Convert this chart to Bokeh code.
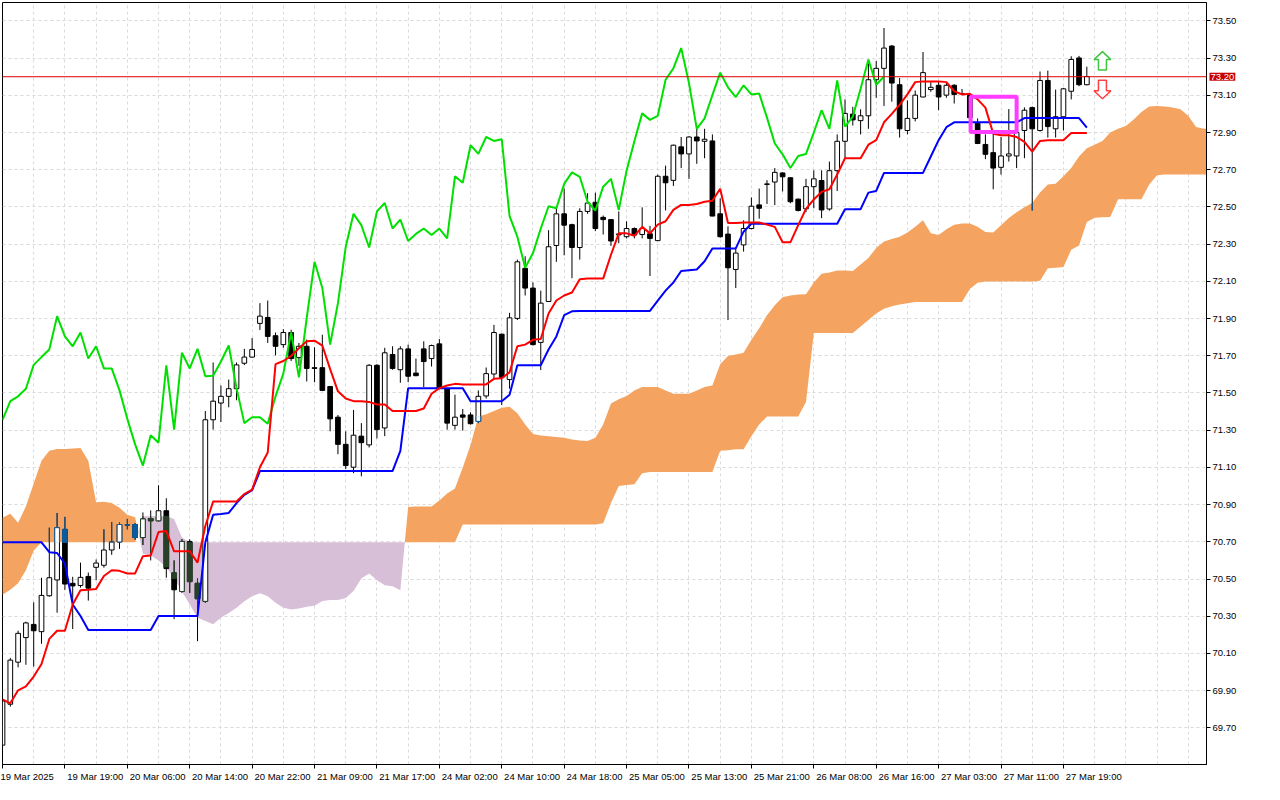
from bokeh.plotting import figure
from bokeh.models import (Range1d, FixedTicker, PrintfTickFormatter, Span, Label,
                          BoxAnnotation, ColumnDataSource)
from bokeh.embed import file_html
from bokeh.resources import INLINE

# ---------------- data (H1 bars) ----------------
opens = [69.607, 69.827, 70.053, 70.185, 70.256, 70.217, 70.410, 70.495, 70.767, 70.477,
         70.465, 70.514, 70.563, 70.574, 70.656, 70.699, 70.790, 70.793, 70.723, 70.825,
         70.813, 70.867, 70.533, 70.433, 70.702, 70.477, 70.380, 71.356, 71.446, 71.482,
         71.523, 71.660, 71.693, 71.874, 71.906, 71.808, 71.760, 71.825, 71.690, 71.751,
         71.636, 71.636, 71.535, 71.370, 71.224, 71.101, 71.268, 71.221, 71.649, 71.312,
         71.707, 71.625, 71.737, 71.607, 71.737, 71.685, 71.764, 71.522, 71.326, 71.382,
         71.382, 71.347, 71.484, 71.602, 71.816, 71.572, 71.901, 72.170, 72.064, 71.772,
         71.992, 72.293, 72.463, 72.405, 72.282, 72.476, 72.525, 72.444, 72.432, 72.350,
         72.340, 72.384, 72.352, 72.356, 72.319, 72.665, 72.643, 72.823, 72.785, 72.876,
         72.853, 72.855, 72.463, 72.354, 72.164, 72.296, 72.384, 72.511, 72.621, 72.634,
         72.683, 72.657, 72.542, 72.490, 72.609, 72.642, 72.489, 72.695, 72.853, 72.999,
         72.964, 72.990, 73.184, 73.245, 73.365, 73.157, 72.911, 72.976, 73.091, 73.131,
         73.154, 73.101, 73.154, 73.108, 73.100, 72.950, 72.836, 72.792, 72.713, 72.774,
         72.774, 72.911, 73.034, 72.911, 73.180, 72.920, 72.985, 73.122, 73.301, 73.157]
highs = [69.850, 70.076, 70.222, 70.271, 70.375, 70.507, 70.776, 70.855, 70.834, 70.512,
         70.588, 70.535, 70.605, 70.767, 70.806, 70.806, 70.823, 70.800, 70.858, 70.869,
         71.004, 70.934, 70.600, 70.714, 70.714, 70.503, 71.403, 71.664, 71.540, 71.572,
         71.664, 71.737, 71.795, 71.983, 71.997, 71.825, 71.843, 71.840, 71.769, 71.787,
         71.746, 71.813, 71.535, 71.382, 71.294, 71.409, 71.338, 71.655, 71.655, 71.743,
         71.751, 71.751, 71.760, 71.685, 71.778, 71.760, 71.790, 71.525, 71.491, 71.414,
         71.396, 71.514, 71.637, 71.866, 71.820, 71.931, 72.217, 72.235, 72.094, 72.050,
         72.375, 72.493, 72.599, 72.410, 72.493, 72.574, 72.577, 72.454, 72.435, 72.476,
         72.423, 72.390, 72.498, 72.398, 72.674, 72.722, 72.835, 72.876, 72.880, 72.929,
         72.920, 72.890, 72.546, 72.396, 72.282, 72.428, 72.551, 72.599, 72.644, 72.709,
         72.686, 72.660, 72.545, 72.651, 72.697, 72.697, 72.744, 72.890, 73.078, 73.038,
         73.025, 73.289, 73.284, 73.462, 73.370, 73.193, 73.073, 73.126, 73.333, 73.171,
         73.175, 73.166, 73.160, 73.134, 73.110, 72.976, 72.890, 72.894, 72.876, 73.026,
         72.920, 73.035, 73.040, 73.228, 73.233, 73.131, 73.140, 73.310, 73.312, 73.254]
lows = [69.600, 69.814, 70.025, 70.039, 70.029, 70.152, 70.405, 70.319, 70.442, 70.231,
        70.454, 70.384, 70.493, 70.561, 70.630, 70.662, 70.767, 70.711, 70.683, 70.600,
        70.810, 70.507, 70.284, 70.425, 70.425, 70.166, 70.372, 71.303, 71.344, 71.423,
        71.461, 71.650, 71.690, 71.839, 71.769, 71.702, 71.743, 71.672, 71.646, 71.562,
        71.558, 71.510, 71.294, 71.171, 71.092, 71.069, 71.052, 71.207, 71.256, 71.268,
        71.625, 71.555, 71.558, 71.590, 71.532, 71.642, 71.520, 71.303, 71.303, 71.298,
        71.330, 71.338, 71.470, 71.579, 71.435, 71.523, 71.892, 72.024, 71.755, 71.623,
        71.990, 72.205, 72.240, 72.117, 72.217, 72.463, 72.370, 72.352, 72.291, 72.305,
        72.331, 72.331, 72.331, 72.129, 72.317, 72.481, 72.613, 72.709, 72.651, 72.732,
        72.762, 72.450, 72.335, 71.892, 72.064, 72.260, 72.380, 72.437, 72.516, 72.510,
        72.583, 72.520, 72.476, 72.472, 72.493, 72.440, 72.480, 72.586, 72.762, 72.938,
        72.890, 72.920, 73.087, 73.043, 73.066, 72.873, 72.890, 72.960, 73.090, 73.119,
        73.020, 73.087, 73.056, 73.100, 72.950, 72.838, 72.757, 72.595, 72.674, 72.744,
        72.709, 72.762, 72.481, 72.905, 72.873, 72.873, 72.911, 73.078, 73.149, 73.154]
closes = [69.844, 70.064, 70.208, 70.264, 70.222, 70.412, 70.507, 70.776, 70.473, 70.463,
          70.509, 70.451, 70.586, 70.656, 70.699, 70.793, 70.792, 70.723, 70.823, 70.813,
          70.867, 70.556, 70.442, 70.702, 70.486, 70.394, 71.356, 71.456, 71.482, 71.523,
          71.651, 71.693, 71.734, 71.913, 71.804, 71.751, 71.825, 71.685, 71.751, 71.632,
          71.632, 71.514, 71.361, 71.224, 71.110, 71.273, 71.233, 71.649, 71.303, 71.716,
          71.632, 71.737, 71.590, 71.593, 71.669, 71.755, 71.526, 71.338, 71.370, 71.370,
          71.335, 71.482, 71.604, 71.825, 71.584, 71.904, 72.205, 72.064, 71.760, 71.983,
          72.286, 72.463, 72.402, 72.282, 72.476, 72.521, 72.384, 72.432, 72.317, 72.355,
          72.384, 72.349, 72.384, 72.331, 72.665, 72.630, 72.832, 72.785, 72.876, 72.855,
          72.864, 72.451, 72.340, 72.173, 72.252, 72.384, 72.504, 72.493, 72.624, 72.686,
          72.662, 72.528, 72.481, 72.609, 72.651, 72.484, 72.695, 72.853, 73.003, 72.968,
          72.990, 73.184, 73.245, 73.354, 73.166, 72.920, 72.976, 73.101, 73.222, 73.143,
          73.091, 73.154, 73.105, 73.110, 72.980, 72.841, 72.783, 72.709, 72.774, 72.785,
          72.900, 73.020, 72.920, 73.180, 72.932, 72.985, 73.135, 73.293, 73.157, 73.201]

tenkan = [69.853, 69.832, 69.902, 69.923, 69.976, 70.043, 70.178, 70.222, 70.222, 70.363,
          70.440, 70.442, 70.447, 70.516, 70.547, 70.544, 70.530, 70.530, 70.623, 70.627,
          70.753, 70.758, 70.649, 70.649, 70.649, 70.588, 70.785, 70.917, 70.917, 70.917,
          70.917, 70.957, 70.981, 71.101, 71.180, 71.655, 71.672, 71.699, 71.740, 71.778,
          71.781, 71.755, 71.628, 71.509, 71.470, 71.456, 71.456, 71.452, 71.438, 71.438,
          71.403, 71.403, 71.403, 71.403, 71.417, 71.496, 71.526, 71.540, 71.549, 71.546,
          71.546, 71.546, 71.546, 71.576, 71.579, 71.611, 71.751, 71.760, 71.786, 71.790,
          71.927, 71.997, 72.024, 72.040, 72.112, 72.115, 72.115, 72.115, 72.243, 72.358,
          72.358, 72.345, 72.393, 72.358, 72.405, 72.423, 72.484, 72.511, 72.511, 72.516,
          72.528, 72.533, 72.598, 72.414, 72.414, 72.416, 72.416, 72.416, 72.405, 72.393,
          72.310, 72.310, 72.402, 72.490, 72.540, 72.581, 72.595, 72.674, 72.762, 72.762,
          72.762, 72.835, 72.859, 72.955, 73.000, 73.049, 73.105, 73.171, 73.175, 73.175,
          73.175, 73.171, 73.122, 73.105, 73.108, 73.078, 73.034, 72.894, 72.885, 72.885,
          72.876, 72.850, 72.797, 72.855, 72.859, 72.859, 72.859, 72.898, 72.898, 72.898]
kijun = [70.697, 70.697, 70.697, 70.697, 70.697, 70.697, 70.644, 70.640, 70.582, 70.363,
         70.301, 70.226, 70.226, 70.226, 70.226, 70.226, 70.226, 70.226, 70.226, 70.226,
         70.301, 70.301, 70.301, 70.301, 70.301, 70.301, 70.697, 70.846, 70.850, 70.855,
         70.908, 70.952, 70.978, 71.080, 71.080, 71.080, 71.080, 71.080, 71.080, 71.080,
         71.080, 71.080, 71.080, 71.080, 71.080, 71.080, 71.080, 71.080, 71.080, 71.080,
         71.080, 71.189, 71.526, 71.526, 71.526, 71.526, 71.526, 71.526, 71.526, 71.526,
         71.456, 71.456, 71.456, 71.456, 71.456, 71.490, 71.649, 71.649, 71.649, 71.649,
         71.734, 71.804, 71.918, 71.939, 71.941, 71.941, 71.941, 71.941, 71.941, 71.941,
         71.941, 71.941, 71.941, 71.941, 71.997, 72.050, 72.094, 72.156, 72.160, 72.164,
         72.208, 72.277, 72.277, 72.277, 72.277, 72.367, 72.410, 72.410, 72.410, 72.410,
         72.410, 72.410, 72.410, 72.410, 72.410, 72.410, 72.410, 72.410, 72.488, 72.488,
         72.488, 72.577, 72.586, 72.683, 72.683, 72.683, 72.683, 72.683, 72.683, 72.771,
         72.859, 72.929, 72.955, 72.955, 72.955, 72.955, 72.955, 72.955, 72.955, 72.955,
         72.955, 72.978, 72.978, 72.978, 72.978, 72.978, 72.978, 72.978, 72.978, 72.926]
# Senkou spans, already displaced 26 bars forward (bars 0..155)
span_a = [70.829, 70.851, 70.802, 70.890, 71.013, 71.136, 71.189, 71.199, 71.199, 71.202,
          71.204, 71.136, 70.913, 70.915, 70.909, 70.883, 70.846, 70.832, 70.635, 70.626,
          70.600, 70.565, 70.503, 70.433, 70.363, 70.292, 70.275, 70.257, 70.292, 70.318,
          70.345, 70.380, 70.407, 70.424, 70.407, 70.372, 70.345, 70.336, 70.341, 70.351,
          70.356, 70.382, 70.387, 70.387, 70.398, 70.435, 70.503, 70.530, 70.493, 70.467,
          70.461, 70.440, 70.887, 70.890, 70.890, 70.890, 70.922, 70.960, 70.987, 71.100,
          71.220, 71.374, 71.386, 71.403, 71.421, 71.426, 71.391, 71.330, 71.280, 71.272,
          71.268, 71.264, 71.259, 71.250, 71.245, 71.242, 71.259, 71.330, 71.444, 71.467,
          71.484, 71.514, 71.532, 71.532, 71.532, 71.514, 71.496, 71.496, 71.496, 71.514,
          71.532, 71.540, 71.655, 71.699, 71.707, 71.716, 71.786, 71.848, 71.918, 71.971,
          72.015, 72.024, 72.029, 72.031, 72.094, 72.141, 72.147, 72.159, 72.159, 72.156,
          72.191, 72.226, 72.279, 72.314, 72.328, 72.340, 72.363, 72.393, 72.428, 72.358,
          72.349, 72.380, 72.405, 72.411, 72.411, 72.393, 72.366, 72.363, 72.402, 72.440,
          72.472, 72.498, 72.521, 72.578, 72.621, 72.625, 72.665, 72.709, 72.771, 72.815,
          72.835, 72.855, 72.900, 72.920, 72.935, 72.970, 73.010, 73.040, 73.043, 73.040,
          73.035, 73.025, 72.990, 72.930, 72.920, 72.920]
span_b = [70.415, 70.442, 70.477, 70.547, 70.653, 70.697, 70.697, 70.697, 70.697, 70.697,
          70.697, 70.697, 70.697, 70.697, 70.697, 70.697, 70.697, 70.697, 70.837, 70.837,
          70.837, 70.837, 70.823, 70.723, 70.697, 70.697, 70.697, 70.697, 70.697, 70.697,
          70.697, 70.697, 70.697, 70.697, 70.697, 70.697, 70.697, 70.697, 70.697, 70.697,
          70.697, 70.697, 70.697, 70.697, 70.697, 70.697, 70.697, 70.697, 70.697, 70.697,
          70.697, 70.697, 70.697, 70.697, 70.697, 70.697, 70.697, 70.697, 70.697, 70.793,
          70.793, 70.793, 70.793, 70.793, 70.793, 70.793, 70.793, 70.793, 70.793, 70.793,
          70.793, 70.793, 70.793, 70.793, 70.793, 70.793, 70.793, 70.800, 70.908, 71.000,
          71.005, 71.010, 71.069, 71.075, 71.075, 71.075, 71.075, 71.075, 71.075, 71.075,
          71.075, 71.075, 71.189, 71.192, 71.198, 71.198, 71.268, 71.330, 71.374, 71.374,
          71.374, 71.374, 71.374, 71.452, 71.822, 71.822, 71.822, 71.822, 71.822, 71.822,
          71.857, 71.892, 71.927, 71.953, 71.966, 71.976, 71.983, 71.989, 71.989, 71.989,
          71.989, 71.989, 71.989, 71.989, 72.059, 72.092, 72.099, 72.099, 72.099, 72.099,
          72.099, 72.099, 72.099, 72.103, 72.170, 72.173, 72.177, 72.270, 72.293, 72.419,
          72.442, 72.444, 72.446, 72.542, 72.542, 72.542, 72.542, 72.621, 72.670, 72.674,
          72.674, 72.674, 72.674, 72.674, 72.674, 72.674]

chikou_shift = 26
tick_bars = [0, 8, 16, 24, 32, 40, 48, 56, 64, 72, 80, 88, 96, 104, 112, 120, 128, 136]
tick_labels = ["19 Mar 2025", "19 Mar 19:00", "20 Mar 06:00", "20 Mar 14:00", "20 Mar 22:00",
               "21 Mar 09:00", "21 Mar 17:00", "24 Mar 02:00", "24 Mar 10:00", "24 Mar 18:00",
               "25 Mar 05:00", "25 Mar 13:00", "25 Mar 21:00", "26 Mar 08:00", "26 Mar 16:00",
               "27 Mar 03:00", "27 Mar 11:00", "27 Mar 19:00"]
price_ticks = [69.70, 69.90, 70.10, 70.30, 70.50, 70.70, 70.90, 71.10, 71.30, 71.50,
               71.70, 71.90, 72.10, 72.30, 72.50, 72.70, 72.90, 73.10, 73.30, 73.50]
last_price = 73.20
box_bars = (124.1, 130.0)
box_prices = (72.903, 73.092)
arrow_bar = 141
arrow_up_tip = 73.335
arrow_down_tip = 73.082

# ---------------- styling ----------------
FONT = "Liberation Sans"
FSIZE = 9.5
FW, FH = 1204, 762
X_START, X_END = 0.0, 154.34
Y_START, Y_END = 69.503, 73.599
ORANGE, PURPLE = "#f4a460", "#d8bfd8"
INV = {ORANGE: "#0b5b9f", PURPLE: "#274027"}
BODY_W = 0.6

p = figure(frame_width=FW, frame_height=FH,
           x_range=Range1d(X_START, X_END), y_range=Range1d(Y_START, Y_END),
           output_backend="svg", toolbar_location=None, y_axis_location="right",
           min_border_left=2, min_border_top=2, min_border_right=0, min_border_bottom=0,
           background_fill_color="white", border_fill_color="white")
p.outline_line_color = "black"
p.outline_line_width = 1

# grid
p.xgrid.ticker = FixedTicker(ticks=list(range(0, 160, 4)))
p.ygrid.ticker = FixedTicker(ticks=price_ticks)
for g in (p.xgrid, p.ygrid):
    g.grid_line_color = "#dadada"
    g.grid_line_dash = "3 3"
    g.grid_line_width = 1

# bottom labels start at their tick: axis labels are centred, so pad them on the
# left with no-break spaces of about the label's own width (the first one is kept
# inside the canvas by the axis itself)
EM = {"0": .556, "1": .556, "2": .556, "3": .556, "4": .556, "5": .556, "6": .556,
      "7": .556, "8": .556, "9": .556, " ": .278, ":": .278, "M": .833, "a": .556, "r": .333}
NBSP_EM = 0.278


def left_aligned(text):
    w = sum(EM.get(ch, .556) for ch in text) * FSIZE + 4
    return "\u00a0" * round(w / (NBSP_EM * FSIZE)) + text


overrides = {b: left_aligned(t) for b, t in zip(tick_bars, tick_labels)}
overrides[tick_bars[0]] = tick_labels[0]

xa = p.xaxis[0]
xa.ticker = FixedTicker(ticks=tick_bars)
xa.major_label_overrides = overrides
ya = p.yaxis[0]
ya.ticker = FixedTicker(ticks=price_ticks)
ya.formatter = PrintfTickFormatter(format="%.2f")
for ax in (xa, ya):
    ax.major_label_text_font = FONT
    ax.major_label_text_font_size = f"{FSIZE}px"
    ax.major_label_text_color = "black"
    ax.axis_line_color = "black"
    ax.major_tick_line_color = "black"
    ax.major_tick_out = 4
    ax.major_tick_in = 0
    ax.minor_tick_line_color = None
    ax.major_label_standoff = 2

# ---------------- Ichimoku cloud ----------------
def cloud_runs(a, b):
    runs = []
    xs, ua, lb = [0], [a[0]], [b[0]]
    up = a[0] >= b[0]
    for i in range(1, len(a)):
        s = a[i] >= b[i]
        if s != up:
            d0, d1 = a[i - 1] - b[i - 1], a[i] - b[i]
            t = d0 / (d0 - d1)
            xc = i - 1 + t
            yc = a[i - 1] + t * (a[i] - a[i - 1])
            xs.append(xc); ua.append(yc); lb.append(yc)
            runs.append((xs, ua, lb, up))
            xs, ua, lb, up = [xc], [yc], [yc], s
        xs.append(i); ua.append(a[i]); lb.append(b[i])
    runs.append((xs, ua, lb, up))
    return runs


pxs, pys, pcs = [], [], []
for xs, ua, lb, up in cloud_runs(span_a, span_b):
    pxs.append(xs + xs[::-1])
    pys.append(ua + lb[::-1])
    pcs.append(ORANGE if up else PURPLE)
p.patches(xs="xs", ys="ys", fill_color="c", line_color=None,
          source=ColumnDataSource(dict(xs=pxs, ys=pys, c=pcs)))

# ---------------- candles ----------------
n = len(closes)
bars = list(range(n))
tops = [max(o, c) for o, c in zip(opens, closes)]
bots = [min(o, c) for o, c in zip(opens, closes)]
fills = ["white" if c >= o else "black" for o, c in zip(opens, closes)]
csrc = ColumnDataSource(dict(x=bars, h=highs, l=lows, top=tops, bot=bots, fill=fills))
p.segment(x0="x", y0="l", x1="x", y1="h", source=csrc, line_color="black", line_width=1)
p.vbar(x="x", width=BODY_W, top="top", bottom="bot", fill_color="fill",
       line_color="black", line_width=1, source=csrc)

# candle parts lying inside the cloud are drawn in the cloud's inverse colour
wx, wy0, wy1, wc = [], [], [], []
bx, bt_, bb_, bf, bl = [], [], [], [], []
ex0, ex1, ey0, ey1, ec = [], [], [], [], []
for i in range(n):
    lo, hi = min(span_a[i], span_b[i]), max(span_a[i], span_b[i])
    inv = INV[ORANGE if span_a[i] >= span_b[i] else PURPLE]
    w0, w1 = max(lows[i], lo), min(highs[i], hi)
    if w1 > w0:
        wx.append(i); wy0.append(w0); wy1.append(w1); wc.append(inv)
    o0, o1 = max(bots[i], lo), min(tops[i], hi)
    if o1 > o0:
        if closes[i] < opens[i]:
            bx.append(i); bb_.append(o0); bt_.append(o1); bf.append(inv); bl.append(inv)
        else:
            bx.append(i); bb_.append(o0); bt_.append(o1); bf.append("white"); bl.append(None)
            for side in (-BODY_W / 2, BODY_W / 2):
                ex0.append(i + side); ex1.append(i + side); ey0.append(o0); ey1.append(o1); ec.append(inv)
            for edge in (tops[i], bots[i]):
                if lo <= edge <= hi:
                    ex0.append(i - BODY_W / 2); ex1.append(i + BODY_W / 2)
                    ey0.append(edge); ey1.append(edge); ec.append(inv)
p.segment(x0="x", y0="y0", x1="x", y1="y1", line_color="c", line_width=1,
          source=ColumnDataSource(dict(x=wx, y0=wy0, y1=wy1, c=wc)))
p.vbar(x="x", width=BODY_W, top="t", bottom="b", fill_color="f", line_color="lc", line_width=1,
       source=ColumnDataSource(dict(x=bx, t=bt_, b=bb_, f=bf, lc=bl)))
p.segment(x0="x0", y0="y0", x1="x1", y1="y1", line_color="c", line_width=1,
          source=ColumnDataSource(dict(x0=ex0, x1=ex1, y0=ey0, y1=ey1, c=ec)))

# ---------------- Ichimoku lines ----------------
p.line(bars[:n - chikou_shift], closes[chikou_shift:], line_color="#00e000", line_width=2)
p.line(bars, kijun, line_color="#0000ff", line_width=2)
p.line(bars, tenkan, line_color="#ff0000", line_width=2)

# current price line and its tag on the price scale
p.add_layout(Span(location=last_price, dimension="width", line_color="#e00000", line_width=1))
p.add_layout(Label(x=X_END, y=last_price, x_offset=3, text=f"{last_price:.2f}",
                   text_color="white", text_font=FONT, text_font_size=f"{FSIZE}px",
                   text_baseline="middle", text_align="left",
                   background_fill_color="#c80000", padding=1), "right")

# highlight box
p.add_layout(BoxAnnotation(left=box_bars[0], right=box_bars[1], bottom=box_prices[0], top=box_prices[1],
                           fill_alpha=0, line_color="#ff3cff", line_alpha=1, line_width=4))

# buy / sell arrows (shape in screen pixels, anchored in data space)
ppb = FW / (X_END - X_START)
ppp = FH / (Y_END - Y_START)
up_shape = [(0, 0), (8.5, -8), (4, -8), (4, -18.5), (-4, -18.5), (-4, -8), (-8.5, -8)]
down_shape = [(dx, -dy) for dx, dy in up_shape]
for tip, shape, col in ((arrow_up_tip, up_shape, "#3fc83f"), (arrow_down_tip, down_shape, "#ff4040")):
    p.patch([arrow_bar + dx / ppb for dx, dy in shape], [tip + dy / ppp for dx, dy in shape],
            fill_color="white", line_color=col, line_width=1.5)

open("out.html", "w").write(file_html(p, INLINE))
